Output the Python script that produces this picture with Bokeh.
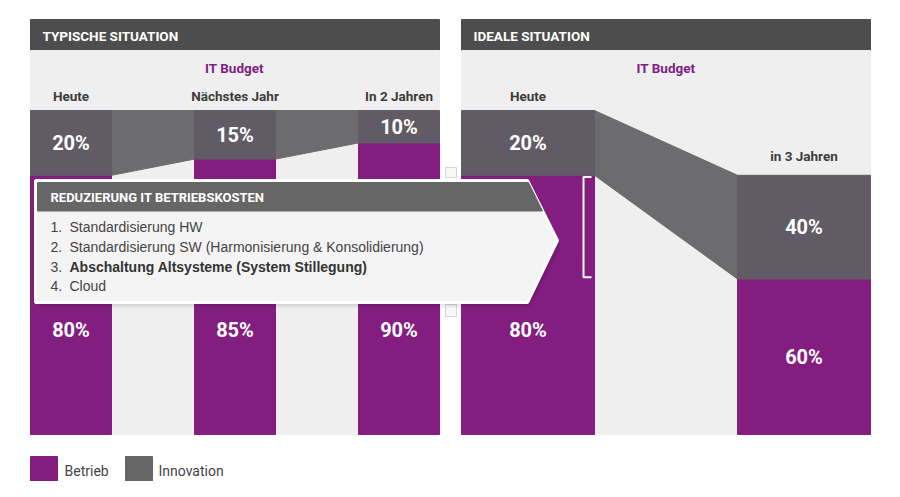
from bokeh.plotting import figure
from bokeh.models import Range1d
from bokeh.core.properties import value
from bokeh.embed import file_html
from bokeh.resources import INLINE

# ---------------- data ----------------
typ_labels = ["Heute", "Nächstes Jahr", "In 2 Jahren"]
typ_innovation = [20, 15, 10]
typ_betrieb = [80, 85, 90]
typ_budget = [100, 100, 100]

ideal_labels = ["Heute", "in 3 Jahren"]
ideal_innovation = [20, 40]
ideal_betrieb = [80, 60]
ideal_budget = [100, 80]          # relative IT budget (Heute = 100)

panel_titles = ["TYPISCHE SITUATION", "IDEALE SITUATION"]
subtitle = "IT Budget"
callout_title = "REDUZIERUNG IT BETRIEBSKOSTEN"
callout_items = ["Standardisierung HW",
                 "Standardisierung SW (Harmonisierung & Konsolidierung)",
                 "Abschaltung Altsysteme (System Stillegung)",
                 "Cloud"]
callout_bold = [False, False, True, False]
legend_labels = ["Betrieb", "Innovation"]

# ---------------- style ----------------
PURPLE = "#831e80"
BARGRAY = "#615b65"
BANDGRAY = "#6c6b6d"
TITLEBAR = "#4d4d4d"
BG = "#efefef"
HEADTXT = "#3c3c3c"
NARROW = "Roboto"
WIDE = "Roboto"
BODY = "Liberation Sans"

PX = 3.24      # pixels per percentage point
BASE = 434     # pixel row of the bars' bottom


def Y(s):
    return (BASE - s) / PX


W, H = 884, 481
p = figure(width=W, height=H, output_backend="svg", toolbar_location=None,
           x_range=Range1d(0, W), y_range=Range1d(Y(H), Y(0)),
           min_border=0, x_axis_location=None, y_axis_location=None,
           background_fill_color="white", border_fill_color="white")
p.outline_line_color = None
p.grid.visible = False


def txt(x, y, s, size, color="white", font=NARROW, style="bold", align="center", baseline="middle"):
    p.text(x=[x], y=[y], text=[s], text_font=value(font), text_font_size=value(f"{size}px"),
           text_font_style=style, text_color=color, text_align=align, text_baseline=baseline)


panel_left = [30, 461]
panel_right = [439, 870]

# title bars and backgrounds
p.quad(left=panel_left, right=panel_right, top=Y(19), bottom=Y(50), color=TITLEBAR)
p.quad(left=panel_left, right=panel_right, top=Y(50), bottom=0, color=BG)

panels = [
    dict(lefts=[30, 194, 358], width=81, labels=typ_labels, inno=typ_innovation,
         bet=typ_betrieb, budget=typ_budget),
    dict(lefts=[461, 737], width=133, labels=ideal_labels, inno=ideal_innovation,
         bet=ideal_betrieb, budget=ideal_budget),
]

LABEL_CAP = Y(329)
for k, pn in enumerate(panels):
    n = len(pn["lefts"])
    w = pn["width"]
    tot = [b for b in pn["budget"]]
    bet = [b * v / 100 for b, v in zip(pn["budget"], pn["bet"])]
    lefts = pn["lefts"]
    rights = [l + w for l in lefts]
    centers = [l + w / 2 for l in lefts]
    # bands
    for i in range(n - 1):
        p.patch(x=[rights[i], lefts[i + 1], lefts[i + 1], rights[i]],
                y=[tot[i], tot[i + 1], bet[i + 1], bet[i]], color=BANDGRAY)
    # bars
    p.vbar(x=centers, width=w, bottom=0, top=bet, color=PURPLE)
    p.vbar(x=centers, width=w, bottom=bet, top=tot, color=BARGRAY)
    # labels
    for i in range(n):
        txt(centers[i], (bet[i] + tot[i]) / 2, f"{pn['inno'][i]}%", 20)
        txt(centers[i], min(bet[i] / 2, LABEL_CAP), f"{pn['bet'][i]}%", 20)
        gap = 15 if tot[i] == 100 else 19
        txt(centers[i], tot[i] + gap / PX, pn["labels"][i], 13.5, HEADTXT)
    # titles
    txt(panel_left[k] + 12, Y(35), panel_titles[k], 13.5, "white", WIDE, "bold", "left")

txt(234, Y(67), subtitle, 13.5, "#7f1d82")
txt(665.5, Y(67), subtitle, 13.5, "#7f1d82")

# bracket on the ideal Heute bar
b_top = ideal_budget[0] * ideal_betrieb[0] / 100 - 0.5
b_bot = ideal_budget[1] * ideal_betrieb[1] / 100 + 0.5
p.line(x=[591, 583, 583, 591], y=[b_top, b_top, b_bot, b_bot], line_color="white", line_width=2)

# small artifacts between the panels
p.quad(left=[445, 445], right=[456, 456], top=[Y(167), Y(304)], bottom=[Y(177), Y(316)],
       fill_color="#f8f8f8", line_color="#d6d6d6", line_width=1)

# callout arrow box
bx = [35, 527, 557, 527, 35]
by = [Y(180), Y(180), Y(240), Y(302), Y(302)]
for d, a in [(6, 0.035), (4, 0.045), (2, 0.06)]:
    p.patch(x=[v + d * 0.7 for v in bx], y=[v - d * 0.3 for v in by],
            color="black", alpha=a, line_color=None)
p.patch(x=bx, y=by, fill_color="#f4f4f4", line_color="white", line_width=3)
p.patch(x=[37, 528, 542, 37], y=[Y(182), Y(182), Y(210.5), Y(210.5)], color="#666666")
txt(50, Y(196.5), callout_title, 13, "white", WIDE, "bold", "left")
for i, (item, bold) in enumerate(zip(callout_items, callout_bold)):
    yy = Y(226.7 + i * 19.7)
    txt(50, yy, f"{i + 1}.", 14, "#444444", BODY, "normal", "left")
    txt(69, yy, item, 14, "#333333" if bold else "#444444", BODY,
        "bold" if bold else "normal", "left")

# legend
p.quad(left=[30, 125], right=[57, 152], top=Y(456), bottom=Y(483), color=[PURPLE, "#666666"])
txt(64, Y(470.5), legend_labels[0], 14, "#444444", NARROW, "normal", "left")
txt(158, Y(470.5), legend_labels[1], 14, "#444444", NARROW, "normal", "left")

open("out.html", "w").write(file_html(p, INLINE))
